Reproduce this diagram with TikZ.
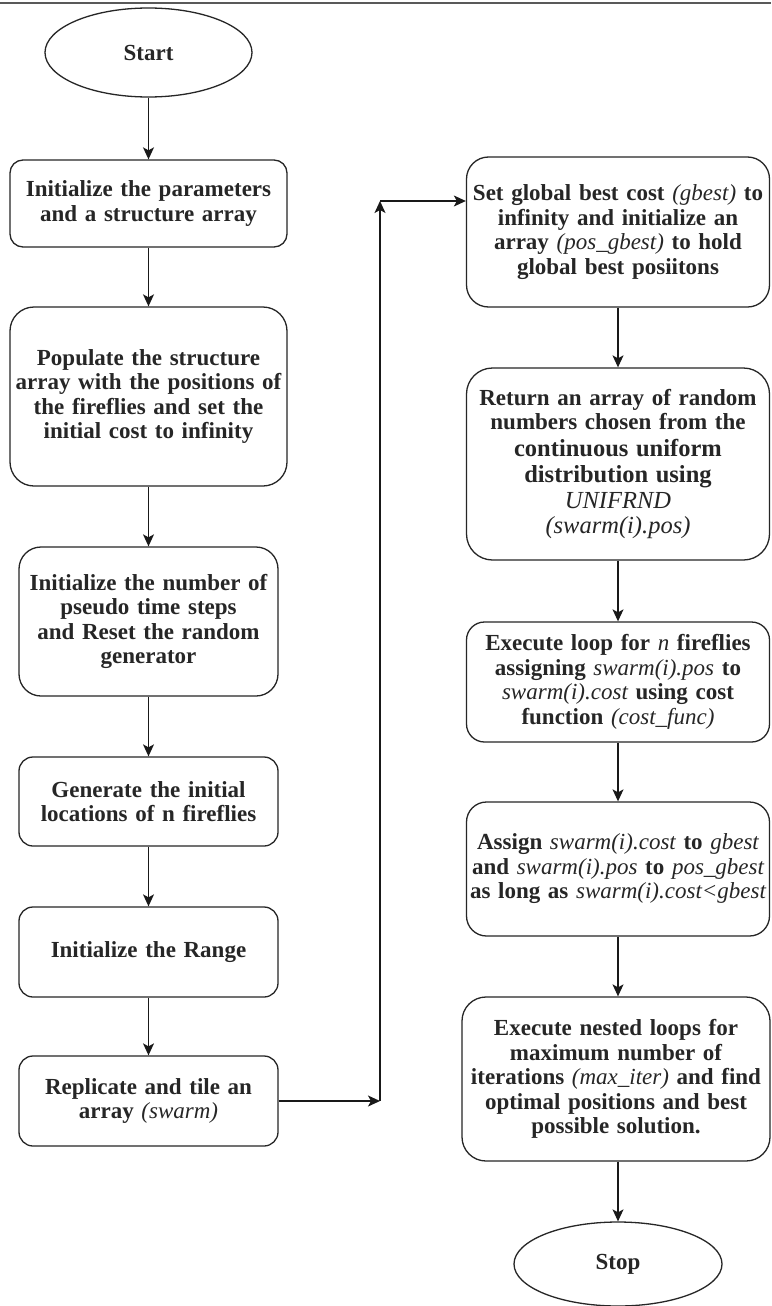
\documentclass[tikz,border=0pt]{standalone}
\usepackage{fontspec}
\setmainfont{Liberation Serif}
\usetikzlibrary{shapes.geometric,arrows.meta}
\newcommand{\ivar}[1]{{\mdseries\itshape #1}}
\newcommand{\wideline}[1]{\makebox[\linewidth]{#1}}
\begin{document}
\begin{tikzpicture}[x=1pt,y=-1pt,
  every node/.style={text=black!85},
  flowbox/.style={draw=black!85, line width=1.3pt, rectangle, align=center,
    inner sep=0pt, font=\bfseries\fontsize{23}{24.5}\selectfont},
  terminal/.style={draw=black!85, line width=1.3pt, ellipse, inner sep=0pt,
    font=\bfseries\fontsize{23}{24.5}\selectfont},
  arr/.style={draw=black!90, line width=1.3pt,
    -{Stealth[length=12pt,width=11pt,inset=3pt]}}]
\useasboundingbox (0,0) rectangle (771,1306);
\fill[white] (0,0) rectangle (771,1306);

% page rule at the top
\draw[black!65, line width=2.5pt] (0,3) -- (771,3);

% ---------- left column ----------
\node[terminal, minimum width=207pt, minimum height=89pt] (start) at (148.5,52.5) {Start};

\node[flowbox, rounded corners=13pt, minimum width=277pt, minimum height=87pt, text width=273pt]
  (b1) at (148.5,203.5) {Initialize the parameters\\ and a structure array};

\node[flowbox, rounded corners=24pt, minimum width=277pt, minimum height=179pt, text width=277pt]
  (b2) at (148.5,396.5) {Populate the structure\\ array with the positions of\\ the fireflies and set the\\ initial cost to infinity};

\node[flowbox, rounded corners=22pt, minimum width=259pt, minimum height=149pt, text width=255pt]
  (b3) at (148.5,621.5) {Initialize the number of\\ pseudo time steps\\ and Reset the random\\ generator};

\node[flowbox, rounded corners=14pt, minimum width=259pt, minimum height=89pt, text width=255pt]
  (b4) at (148.5,801.5) {Generate the initial\\ locations of n fireflies};

\node[flowbox, rounded corners=14pt, minimum width=259pt, minimum height=90pt, text width=255pt]
  (b5) at (148.5,952) {Initialize the Range};

\node[flowbox, rounded corners=14pt, minimum width=259pt, minimum height=90pt, text width=255pt]
  (b6) at (148.5,1101) {Replicate and tile an\\ array \ivar{(swarm)}};

% ---------- right column ----------
\node[flowbox, rounded corners=22pt, minimum width=303pt, minimum height=150pt, text width=301pt]
  (b7) at (618,232) {Set global best cost \ivar{(gbest)} to\\ infinity and initialize an\\ array \ivar{(pos\_gbest)} to hold\\ global best posiitons};

\node[flowbox, rounded corners=26pt, minimum width=303pt, minimum height=192pt, text width=299pt]
  (b8) at (618,464) {Return an array of random\\ numbers chosen from the\\[1pt]
  {\fontsize{24.5}{26}\selectfont continuous uniform\\ distribution using\\ \ivar{UNIFRND}\\ \ivar{(swarm(i).pos)}}};

\node[flowbox, rounded corners=18pt, minimum width=303pt, minimum height=120pt, text width=299pt]
  (b9) at (618,682) {Execute loop for \ivar{n} fireflies\\ assigning \ivar{swarm(i).pos} to\\ \ivar{swarm(i).cost} using cost\\ function \ivar{(cost\_func)}};

\node[flowbox, rounded corners=20pt, minimum width=303pt, minimum height=134pt, text width=293pt]
  (b10) at (618,869) {\wideline{Assign \ivar{swarm(i).cost} to \ivar{gbest}}\\
  \wideline{and \ivar{swarm(i).pos} to \ivar{pos\_gbest}}\\
  \wideline{as long as \ivar{swarm(i).cost<gbest}}};

\node[flowbox, rounded corners=24pt, minimum width=308pt, minimum height=164pt, text width=304pt]
  (b11) at (616,1079) {Execute nested loops for\\ maximum number of\\ iterations \ivar{(max\_iter)} and find\\ optimal positions and best\\ possible solution.};

\node[terminal, minimum width=208pt, minimum height=84pt] (stop) at (618,1264) {Stop};

% ---------- connectors ----------
\draw[arr] (start) -- (b1);
\draw[arr] (b1) -- (b2);
\draw[arr] (b2) -- (b3);
\draw[arr] (b3) -- (b4);
\draw[arr] (b4) -- (b5);
\draw[arr] (b5) -- (b6);

\coordinate (lo) at (380,1101);
\coordinate (hi) at (380,201);
\draw[arr] (b6.east) -- (lo);
\draw[arr] (lo) -- (hi);
\draw[arr] (hi) -- (hi -| b7.west);

\draw[arr] (b7) -- (b8);
\draw[arr] (b8) -- (b9);
\draw[arr] (b9) -- (b10);
\draw[arr] (b10.south) -- (b10.south |- b11.north);
\draw[arr] (b11.south -| stop) -- (stop);
\end{tikzpicture}
\end{document}
